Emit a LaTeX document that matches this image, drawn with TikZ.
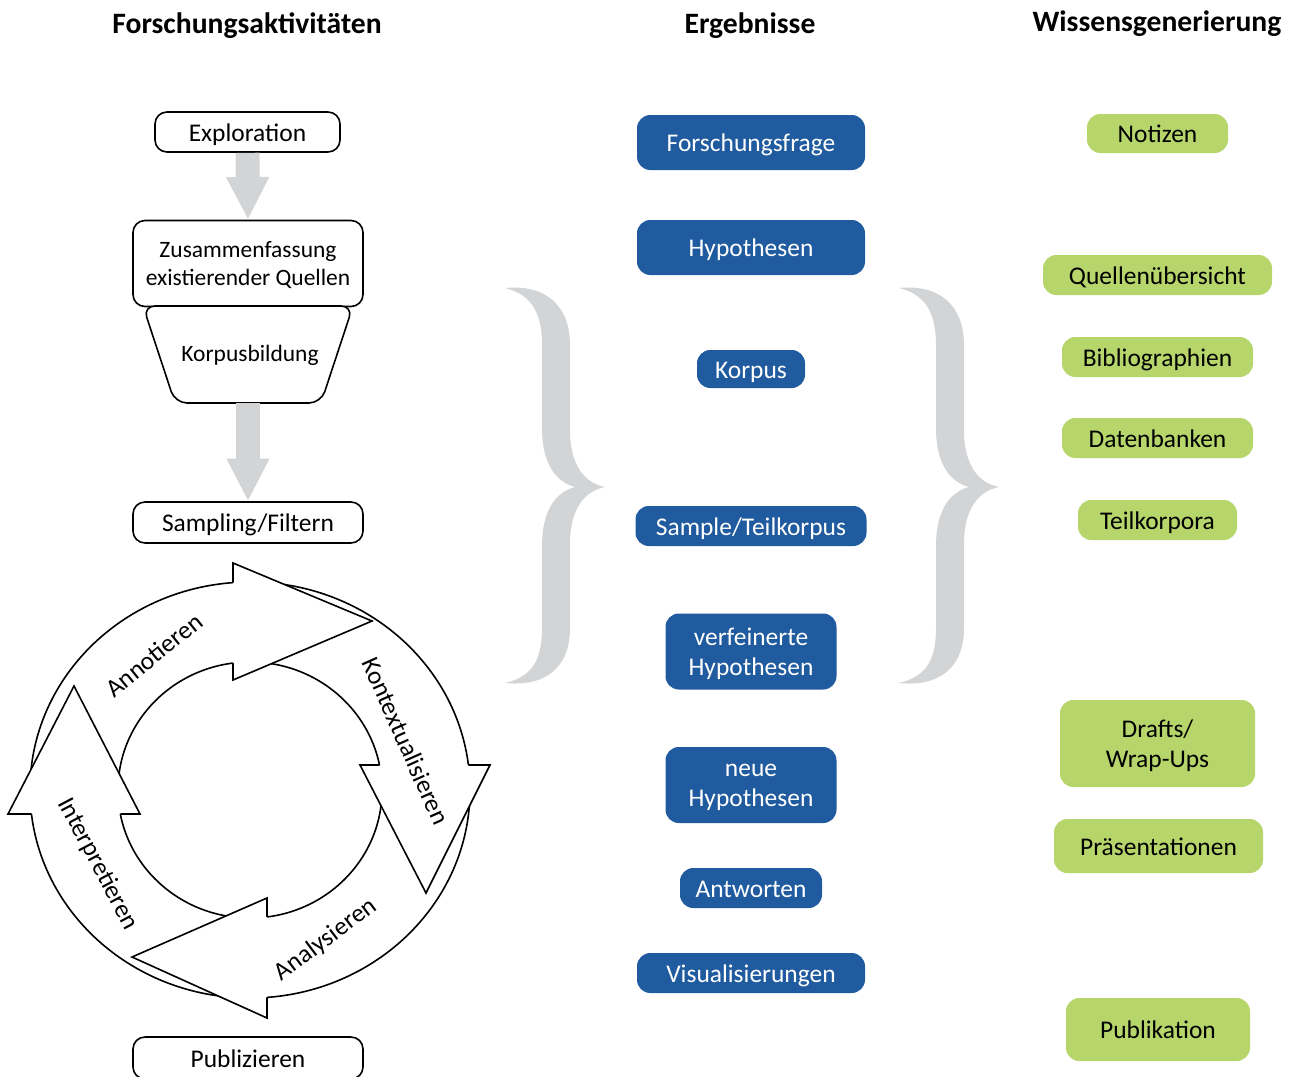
\documentclass[tikz,border=0pt]{standalone}
\usepackage{fontspec}
\setmainfont{Carlito}
\usetikzlibrary{arrows.meta}
\definecolor{blueb}{RGB}{31,91,158}
\definecolor{greenb}{RGB}{182,213,106}
\definecolor{grayb}{RGB}{211,212,214}
\tikzset{
  sz/.style 2 args={minimum width=#1*0.75pt, minimum height=#2*0.75pt},
  title/.style={font=\fontsize{22.2}{26}\selectfont\bfseries},
  txt/.style={font=\fontsize{19.1}{22.5}\selectfont},
  oneline/.style={text height=16pt, text depth=2pt},
  twoline/.style={text depth=0pt},
  actbox/.style={txt, draw, line width=1.2pt, rounded corners=9pt, fill=white, inner sep=0pt, align=center},
  resbox/.style={txt, fill=blueb, text=white, rounded corners=10pt, inner sep=0pt, align=center},
  knowbox/.style={txt, fill=greenb, text=black, rounded corners=10pt, inner sep=0pt, align=center},
  grayarrow/.style={draw=grayb, line width=18pt, -{Triangle[width=30pt, length=32pt]}},
  cyc/.style={draw, line width=1.2pt, line join=miter},
  cyclab/.style={txt, inner sep=0pt},
  bracefill/.style={fill=grayb}
}
\begin{document}
\begin{tikzpicture}[x=0.75pt,y=-0.75pt]
\useasboundingbox (0,0) rectangle (1293,1076);

% titles
\node[title] (t1) at (247,25.5) {Forschungsaktivitäten};
\node[title] (t2) at (750,25.5) {Ergebnisse};
\node[title] (t3) at (1157,23.5) {Wissensgenerierung};

% left column
\node[actbox, oneline, sz={185}{40}] (expl) at (247.5,132) {Exploration};
\node[actbox, twoline, sz={230}{86}, font=\fontsize{17.6}{20.5}\selectfont] (zus) at (248,263.5) {Zusammenfassung\\existierender Quellen};
\draw[line width=1.2pt, fill=white, rounded corners=9pt]
  (143,306) -- (353,306) -- (321,403) -- (175,403) -- cycle;
\node[font=\fontsize{17.6}{20.5}\selectfont, oneline, inner sep=0pt] (korp) at (250,352) {Korpusbildung};
\coordinate (korpbot) at (248,403);
\node[actbox, oneline, sz={230}{41}] (samp) at (248,522.5) {Sampling/Filtern};
\node[actbox, oneline, sz={230}{42}] (pub) at (248,1058) {Publizieren};

\draw[grayarrow] (expl.south) -- (zus.north);
\draw[grayarrow] (korpbot) -- (samp.north);

% cycle
\draw[cyc] (250,790) ellipse [x radius=220, y radius=208];
\draw[cyc] (250,790) ellipse [x radius=132, y radius=128];
% Annotieren head
\fill[white] (233,563) -- (372,621) -- (233,680) -- cycle;
\draw[cyc] (233,582.6) -- (233,563) -- (372,621) -- (233,680) -- (233,663);
% Kontextualisieren head
\fill[white] (490,765) -- (426,893) -- (360,765) -- cycle;
\draw[cyc] (468.4,765) -- (490,765) -- (426,893) -- (360,765) -- (379.5,765);
% Analysieren head
\fill[white] (267,1018) -- (132,957) -- (267,898) -- cycle;
\draw[cyc] (267,997.4) -- (267,1018) -- (132,957) -- (267,898) -- (267,916.9);
% Interpretieren head
\fill[white] (8,814) -- (74,686) -- (140,814) -- cycle;
\draw[cyc] (31.5,814) -- (8,814) -- (74,686) -- (140,814) -- (120.3,814);

\node[cyclab, rotate=39] (lannot) at (154,655) {Annotieren};
\node[cyclab, rotate=-66] (lkont) at (406,741) {Kontextualisieren};
\node[cyclab, rotate=37] (lanal) at (326,940) {Analysieren};
\node[cyclab, rotate=-62] (linter) at (98,864) {Interpretieren};

% braces
\foreach \dx in {0,394} {
\begin{scope}[shift={(\dx,0)}]
\fill[bracefill] (505,288) .. controls (545,284) and (570,305) .. (570,345)
  -- (570,430) .. controls (570,466) and (585,483) .. (605,487)
  .. controls (585,491) and (570,508) .. (570,544)
  -- (570,628) .. controls (570,668) and (545,687) .. (505,683)
  .. controls (530,677) and (542,663) .. (542,628)
  -- (542,546) .. controls (542,510) and (556,492) .. (575,487)
  .. controls (556,482) and (542,464) .. (542,428)
  -- (542,345) .. controls (542,311) and (530,294) .. (505,288) -- cycle;
\end{scope}
}

% results
\node[resbox, oneline, sz={228}{55}] (r1) at (751,142.5) {Forschungsfrage};
\node[resbox, oneline, sz={228}{55}] (r2) at (751,247.5) {Hypothesen};
\node[resbox, oneline, sz={108}{38}] (r3) at (751,369) {Korpus};
\node[resbox, oneline, sz={231}{40}] (r4) at (751,526) {Sample/Teilkorpus};
\node[resbox, twoline, sz={171}{76}] (r5) at (751,651.5) {verfeinerte\\Hypothesen};
\node[resbox, twoline, sz={171}{76}] (r6) at (751,785) {neue\\Hypothesen};
\node[resbox, oneline, sz={142}{40}] (r7) at (751,888) {Antworten};
\node[resbox, oneline, sz={228}{40}] (r8) at (751,973) {Visualisierungen};

% knowledge
\node[knowbox, oneline, sz={141}{39}] (k1) at (1157.5,133.5) {Notizen};
\node[knowbox, oneline, sz={229}{40}] (k2) at (1157.5,275) {Quellenübersicht};
\node[knowbox, oneline, sz={191}{40}] (k3) at (1157.5,357) {Bibliographien};
\node[knowbox, oneline, sz={191}{40}] (k4) at (1157.5,438) {Datenbanken};
\node[knowbox, oneline, sz={159}{40}] (k5) at (1157.5,520) {Teilkorpora};
\node[knowbox, twoline, sz={195}{87}] (k6) at (1157.5,743.5) {Drafts/\\Wrap-Ups};
\node[knowbox, oneline, sz={209}{54}] (k7) at (1158.5,846) {Präsentationen};
\node[knowbox, oneline, sz={184}{63}] (k8) at (1158,1029.5) {Publikation};
\end{tikzpicture}
\end{document}
